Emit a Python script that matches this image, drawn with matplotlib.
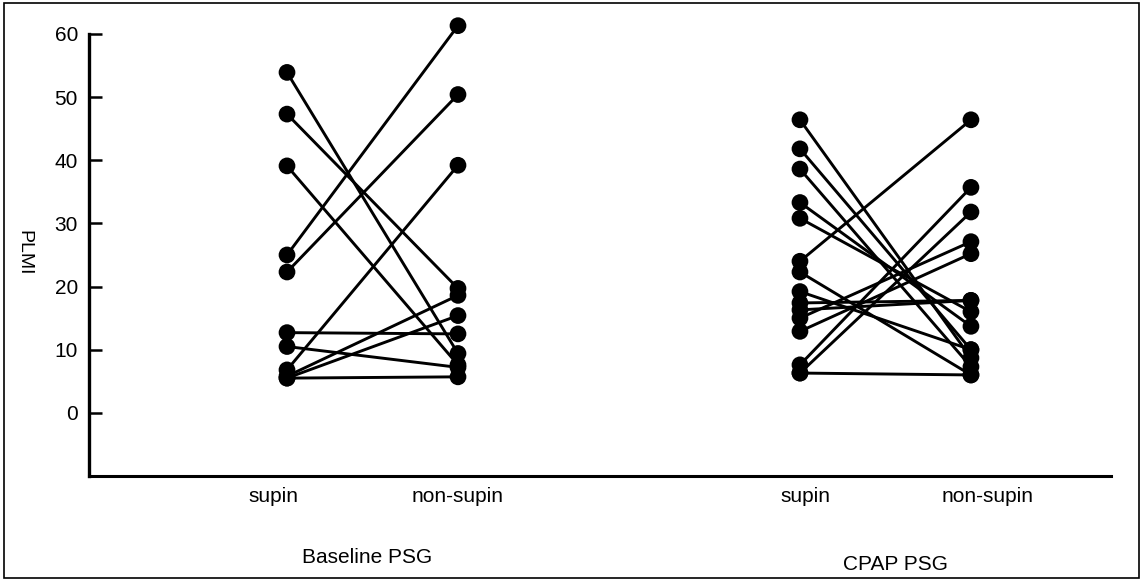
import matplotlib
matplotlib.use("Agg")
import matplotlib.pyplot as plt
from matplotlib.patches import Rectangle

plt.rcParams['font.family'] = ['Liberation Sans', 'DejaVu Sans']

# ---- data (PLMI per subject, supine vs non-supine) ----
baseline_supin = [53.9, 47.3, 39.1, 25.0, 22.3, 12.7, 10.5, 6.8, 5.8, 5.5, 5.5]
baseline_nonsupin = [9.4, 19.7, 7.6, 61.3, 50.4, 12.5, 7.2, 39.2, 18.6, 15.4, 5.7]

cpap_supin = [46.4, 41.8, 38.6, 33.3, 30.8, 24.0, 22.3, 19.2, 17.4, 16.3,
              15.0, 12.9, 7.6, 6.3, 6.3]
cpap_nonsupin = [8.7, 10.0, 7.3, 13.7, 16.0, 46.4, 6.0, 10.0, 17.8, 17.8,
                 27.1, 25.2, 35.7, 31.8, 6.0]

position_labels = ["supin", "non-supin", "supin", "non-supin"]
group_labels = ["Baseline PSG", "CPAP PSG"]
y_ticks = [0, 10, 20, 30, 40, 50, 60]
y_label = "PLMI"

# ---- layout ----
fig = plt.figure(figsize=(11.43, 5.80), dpi=100)
ax = fig.add_axes([89 / 1143, 104 / 580, 1022 / 1143, 456 / 580])

groups = [(1, 2, baseline_supin, baseline_nonsupin),
          (4, 5, cpap_supin, cpap_nonsupin)]

for xs, xn, sup, non in groups:
    for s, n in zip(sup, non):
        ax.plot([xs, xn], [s, n], color="black", lw=2.1, zorder=2,
                solid_capstyle="butt")
    ax.scatter([xs] * len(sup), sup, s=145, color="black", zorder=3,
               edgecolors="none", clip_on=False)
    ax.scatter([xn] * len(non), non, s=145, color="black", zorder=3,
               edgecolors="none", clip_on=False)

ax.set_xlim(-0.158, 5.819)
ax.set_ylim(-10, 62.2)

ax.spines["top"].set_visible(False)
ax.spines["right"].set_visible(False)
ax.spines["left"].set_linewidth(2.4)
ax.spines["bottom"].set_linewidth(2.2)
ax.spines["left"].set_bounds(-10, 60)

ax.set_yticks(y_ticks)
ax.set_yticklabels([str(t) for t in y_ticks], fontsize=15)
ax.tick_params(axis="y", direction="in", length=9, width=1.8, pad=8)

label_x = [0.92, 2.0, 4.03, 5.1]
ax.set_xticks(label_x)
ax.set_xticklabels(position_labels, fontsize=15)
ax.tick_params(axis="x", length=0, pad=8)

ax.text(1.47, -0.178, group_labels[0], transform=ax.get_xaxis_transform(),
        ha="center", va="center", fontsize=15)
ax.text(4.56, -0.195, group_labels[1], transform=ax.get_xaxis_transform(),
        ha="center", va="center", fontsize=15)

fig.text(24 / 1143, 1 - 253 / 580, y_label, rotation=270, ha="center",
         va="center", fontsize=14)

# outer frame
fig.patches.append(Rectangle((4 / 1143, 2 / 580), 1135 / 1143, 575 / 580,
                             transform=fig.transFigure, fill=False,
                             edgecolor="black", lw=1.2))

fig.savefig("out.png", dpi=100)
